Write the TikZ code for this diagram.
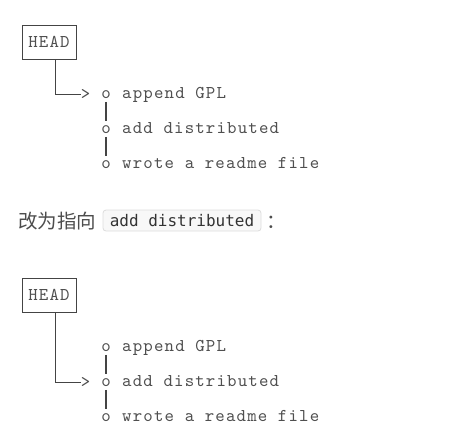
\documentclass[tikz,border=0pt]{standalone}
\usepackage{fontspec}
\newfontfamily\cjk{Noto Sans CJK SC}
\newfontfamily\codefont{DejaVu Sans Mono}
\newfontfamily\asciifont{lmmono10-regular.otf}[LetterSpace=6.5]
\definecolor{asciigray}{HTML}{4F4F4F}
\definecolor{linegray}{HTML}{444444}
\definecolor{zhgray}{HTML}{4D4D4D}
\definecolor{codefill}{HTML}{F8F8F8}
\definecolor{codeborder}{HTML}{DCDCDC}
\definecolor{codetext}{HTML}{333333}
\begin{document}
\begin{tikzpicture}[x=1pt,y=-1pt,
  asc/.style={inner sep=0pt, font=\fontsize{18}{18}\asciifont, text=asciigray, anchor=base},
  lbl/.style={asc, anchor=base west},
  headbox/.style={draw=linegray, line width=0.8pt, minimum width=54pt, minimum height=34pt, inner sep=0pt, font=\fontsize{18}{18}\asciifont, text=asciigray},
  wire/.style={draw=linegray, line width=0.8pt},
  bar/.style={draw=linegray, line width=1.1pt, shorten <=3pt, shorten >=4pt},
  zh/.style={inner sep=0pt, font=\fontsize{19.5}{19.5}\cjk, text=zhgray, anchor=base west},
  codebox/.style={draw=codeborder, fill=codefill, rounded corners=3pt, line width=0.8pt, minimum width=158pt, minimum height=21pt, inner sep=0pt, font=\fontsize{16}{16}\codefont, text=codetext}
]
\useasboundingbox (0,0) rectangle (457,445);

% ---------- first diagram ----------
\node[headbox] (h1) at (49,42) {HEAD};
\node[asc] (g1) at (85.5,99.5) {>};
\node[asc] (o11) at (106,98.5) {o};
\node[lbl] (t11) at (122,98.5) {append GPL};
\node[asc] (o12) at (106,133.5) {o};
\node[lbl] (t12) at (122,133.5) {add distributed};
\node[asc] (o13) at (106,168.5) {o};
\node[lbl] (t13) at (122,168.5) {wrote a readme file};
\draw[wire] ([xshift=6pt]h1.south) |- (g1.west);
\draw[bar] (o11.south) -- (o12.north);
\draw[bar] (o12.south) -- (o13.north);

% ---------- sentence ----------
\node[zh] (zh1) at (18,228.5) {改为指向};
\node[codebox] (code) at (182,220.5) {add distributed};
\node[zh] (colon) at (266,228.5) {：};

% ---------- second diagram ----------
\node[headbox] (h2) at (49,295) {HEAD};
\node[asc] (o21) at (106,351.5) {o};
\node[lbl] (t21) at (122,351.5) {append GPL};
\node[asc] (g2) at (85.5,387.5) {>};
\node[asc] (o22) at (106,386.5) {o};
\node[lbl] (t22) at (122,386.5) {add distributed};
\node[asc] (o23) at (106,421.5) {o};
\node[lbl] (t23) at (122,421.5) {wrote a readme file};
\draw[wire] ([xshift=6pt]h2.south) |- (g2.west);
\draw[bar] (o21.south) -- (o22.north);
\draw[bar] (o22.south) -- (o23.north);
\end{tikzpicture}
\end{document}
